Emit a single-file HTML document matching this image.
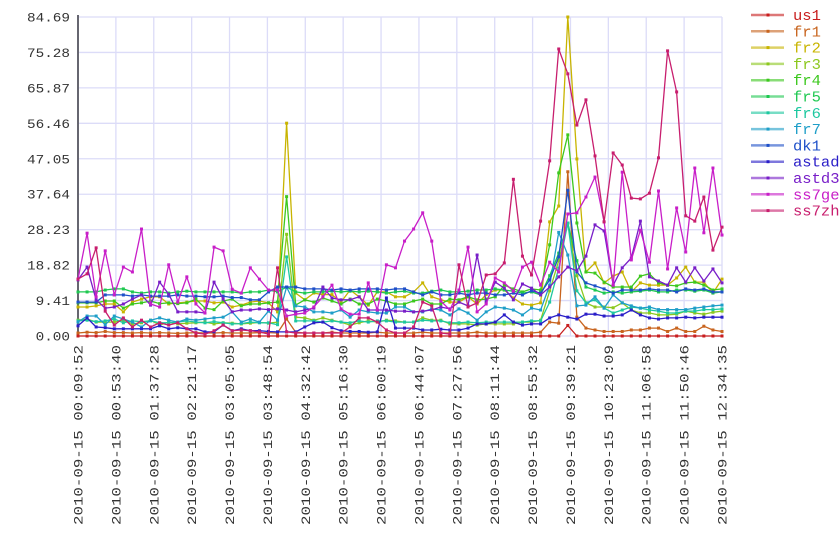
<!DOCTYPE html>
<html><head><meta charset="utf-8">
<style>
html,body{margin:0;padding:0;background:#fff;}
svg{display:block;font-family:"Liberation Mono","DejaVu Sans Mono",monospace;}
</style></head>
<body>
<svg id="chart" width="840" height="560" viewBox="0 0 840 560" xmlns="http://www.w3.org/2000/svg">
<g id="grid"></g>
<g id="yticks"></g>
<g id="xticks"></g>
<g id="series"></g>
<g id="legend"></g>
</svg>
<script>
const seriesNames = ["us1","fr1","fr2","fr3","fr4","fr5","fr6","fr7","dk1","astad","astd3","ss7ge","ss7zh"];
const seriesColors = ["#c81e1e","#c8641e","#c8b400","#8cc81e","#3cc81e","#1ec850","#1ec8a0","#1e9ec8","#1e50c8","#2a1ec8","#781ec8","#c81ec8","#c81e6e"];
const yTickLabels = ["0.00","9.41","18.82","28.23","37.64","47.05","56.46","65.87","75.28","84.69"];
const yMax = 84.69;
const xTickLabels = ["2010-09-15 00:09:52","2010-09-15 00:53:40","2010-09-15 01:37:28","2010-09-15 02:21:17","2010-09-15 03:05:05","2010-09-15 03:48:54","2010-09-15 04:32:42","2010-09-15 05:16:30","2010-09-15 06:00:19","2010-09-15 06:44:07","2010-09-15 07:27:56","2010-09-15 08:11:44","2010-09-15 08:55:32","2010-09-15 09:39:21","2010-09-15 10:23:09","2010-09-15 11:06:58","2010-09-15 11:50:46","2010-09-15 12:34:35"];

const us1 = [0,0,0,0,0,0,0,0,0,0,0,0,0,0,0,0,0,0,0,0,0,0,0, 0, 0,0,0,0,0,0,0,0,0,0,0,0,0,0,0,0,0,0,0,0,0,0,0, 0,0,0,0,0,0,0,2.8,0,0,0,0,0,0,0,0,0,0,0,0,0,0,0,0,0];
const fr1 = [0.8,1.0,0.9,1.2,0.9,0.9,0.8,0.9,0.8,0.9,0.8,0.7,0.8,0.9,0.8,0.8,0.9,0.8,0.8,0.8,0.9,0.9,0.8, 4.5, 1.0,0.8,0.8,0.8,1.0,0.8,0.8,0.8,0.8,1.0,0.8,0.8,0.8,0.8,1.0,0.8,0.8,0.8,0.8,0.8,1.0,0.8,0.8, 0.8,0.8,0.8,0.8,1.0,3.7,3.4,43.6,5.0,2.1,1.6,1.2,1.2,1.2,1.6,1.6,2.1,2.1,1.2,2.1,1.2,1.2,2.6,1.6,1.2];
const fr2 = [7.7,7.7,8.0,8.5,8.5,6.4,9.0,9.8,10.4,10.4,8.5,8.8,9.0,9.3,9.3,8.8,9.0,7.7,8.2,9.0,9.3,8.8,6.4, 56.5, 11.4,9.6,11.4,11.0,11.0,9.0,12.2,10.4,8.2,11.7,11.7,10.4,10.4,11.7,14.1,10.4,9.6,9.0,9.0,10.4,8.5,11.0,12.2, 12.2,10.1,8.5,8.2,8.8,30.3,34.5,84.69,47.0,17.0,19.4,14.1,15.9,17.0,11.7,14.1,13.5,13.5,13.5,15.4,18.3,14.3,14.3,11.4,15.1];
const fr3 = [4.2,4.5,3.7,3.7,3.7,4.2,3.2,3.5,4.2,2.9,3.7,3.2,3.4,3.5,3.7,3.2,3.5,3.4,3.2,3.4,3.6,3.4,3.7, 27.0, 5.0,4.8,4.2,4.8,4.2,3.7,2.9,3.5,4.0,3.7,4.2,4.0,3.7,3.7,4.8,4.2,4.2,3.2,3.2,3.2,2.9,3.2,3.2, 3.2,3.2,3.7,3.7,4.2,12.0,20.0,30.0,16.0,8.8,7.7,7.7,7.5,8.8,6.9,6.1,6.1,5.6,5.6,5.8,6.6,6.1,5.8,6.3,6.6];
const fr4 = [8.8,8.8,8.8,9.3,9.3,7.4,8.5,8.8,9.3,8.6,8.8,8.6,8.8,9.8,7.4,7.0,9.3,9.8,8.0,8.5,8.5,8.8,9.0, 37.0, 8.2,9.6,9.0,10.1,9.3,8.5,9.8,8.5,8.5,9.8,9.3,8.5,8.5,9.3,9.8,8.5,8.5,9.8,9.6,10.4,9.6,9.8,10.4, 13.5,12.5,11.7,12.5,12.2,24.2,43.3,53.4,30.0,17.0,16.7,14.3,13.0,13.0,13.0,15.9,16.5,14.1,13.5,13.3,14.1,14.3,13.5,12.2,12.5];
const fr5 = [11.7,11.7,11.7,12.2,12.5,12.5,11.7,11.4,11.7,11.7,11.4,11.7,11.9,11.7,11.7,11.7,11.7,11.7,11.4,11.7,11.7,12.2,11.7, 13.0, 11.7,11.4,11.7,11.7,11.9,11.7,11.9,11.7,11.9,11.7,11.4,11.7,11.9,11.4,11.4,11.9,12.2,11.7,11.7,11.9,12.2,12.2,12.5, 12.2,11.9,11.4,11.7,10.9,16.0,22.0,30.0,20.0,13.0,12.2,11.4,11.7,11.4,11.7,11.9,12.2,11.7,11.7,12.2,12.2,11.9,12.2,11.4,11.7];
const fr6 = [4.0,4.2,3.8,4.0,4.5,3.5,4.0,3.8,4.0,3.5,3.5,3.7,4.0,3.7,3.5,3.8,3.5,3.2,3.3,3.7,3.5,3.5,3.0, 21.0, 4.0,4.0,4.0,3.7,4.0,3.7,3.5,4.0,3.7,4.0,4.0,3.7,3.7,3.7,4.2,4.0,4.0,3.5,3.5,3.7,3.5,3.7,3.7, 3.7,3.7,3.7,4.0,4.0,9.0,18.0,30.0,12.0,8.8,9.6,7.4,6.1,6.9,7.7,7.4,6.9,6.6,6.1,6.1,6.6,6.6,7.0,7.0,7.2];
const fr7 = [3.7,5.3,5.3,3.0,5.3,4.5,3.7,2.4,4.2,4.8,4.2,3.7,4.5,4.2,4.5,4.8,5.0,6.4,3.7,4.5,3.7,6.6,4.2, 13.0, 8.0,7.7,6.4,6.4,6.1,6.9,5.0,6.9,6.4,6.1,6.1,7.7,7.7,6.4,6.4,7.2,6.9,5.6,7.2,6.1,4.2,6.4,7.7, 7.4,6.9,5.6,7.4,6.9,13.5,27.5,21.5,8.0,8.2,10.4,7.4,10.9,8.8,8.0,7.4,7.7,7.0,7.0,7.0,7.0,7.4,7.7,8.0,8.2];
const dk1 = [9.0,9.0,9.0,10.9,10.9,10.9,10.6,10.9,10.6,10.6,10.6,10.9,10.6,10.6,10.4,10.4,10.6,10.2,10.2,9.6,9.6,11.7,13.0, 13.0, 13.0,12.5,12.5,12.5,12.2,12.5,12.2,12.5,12.5,12.5,12.2,12.5,12.5,11.7,10.9,11.7,10.9,10.9,11.4,10.9,11.4,11.4,10.9, 10.9,11.4,10.9,12.0,11.4,14.9,21.0,38.7,17.0,14.1,13.3,12.5,11.4,12.2,12.2,12.2,12.5,12.2,12.2,11.7,12.5,12.2,12.5,11.7,11.7];
const astad = [2.7,4.8,2.4,2.2,1.9,1.9,1.9,1.9,1.9,2.7,1.9,2.2,1.9,1.9,1.1,1.1,2.9,1.4,1.9,1.4,1.4,1.2,1.1, 1.1, 1.1,2.4,3.5,3.7,2.2,1.4,1.2,1.2,1.0,1.1,10.1,2.1,2.1,2.1,1.6,1.6,1.8,1.6,1.6,2.1,3.2,3.2,3.7, 5.6,3.7,2.9,3.2,3.2,4.8,5.6,5.0,4.5,5.8,5.8,5.3,5.3,5.6,6.9,5.6,4.8,4.5,4.8,4.8,5.0,4.8,5.0,5.0,5.0];
const astd3 = [14.9,18.3,9.6,7.4,7.7,8.5,9.8,10.9,8.2,14.3,11.1,6.4,6.4,6.4,6.1,14.3,9.8,6.4,6.9,6.9,7.2,7.0,7.2, 6.9, 6.4,6.9,7.4,13.0,10.1,9.6,9.6,10.4,6.9,6.9,6.9,6.6,6.6,6.4,6.6,6.9,7.7,7.2,9.0,8.0,21.5,9.0,14.3, 12.7,9.6,13.8,12.7,10.9,13.0,15.7,18.3,17.3,21.2,29.5,27.9,13.5,18.1,20.7,30.5,15.7,14.6,13.5,18.1,14.3,18.1,14.6,17.8,14.1];
const ss7ge = [15.1,27.3,10.4,22.6,10.9,18.3,17.0,28.4,8.5,7.7,18.9,9.0,15.7,8.5,6.1,23.6,22.6,12.4,11.4,18.1,15.1,12.2,12.2, 5.3, 5.8,6.1,7.7,10.4,13.5,7.2,5.8,5.8,14.1,6.9,18.9,18.1,25.2,28.4,32.7,25.2,9.3,6.9,12.2,23.6,6.4,8.5,15.4, 14.1,11.9,18.3,19.6,13.5,19.6,17.0,32.4,32.7,36.9,42.2,30.3,13.5,43.5,20.2,28.1,19.6,38.5,17.8,34.0,22.3,44.6,27.4,44.6,26.8];
const ss7zh = [15.1,16.5,23.4,6.6,2.9,4.8,2.4,4.2,2.4,3.5,2.9,3.5,1.9,0.8,0.5,1.4,2.9,1.4,1.6,1.4,1.1,0.5,18.1, 1.1, 0.8,0.8,0.8,0.8,0.8,0.8,2.4,4.8,4.8,3.7,1.6,0.8,0.8,2.4,9.0,8.0,0.8,0.5,18.9,7.7,8.8,16.2,16.5, 19.4,41.6,21.2,16.2,30.5,46.5,76.2,69.6,56.0,62.7,47.8,30.3,48.6,45.4,36.6,36.4,37.9,47.3,75.7,64.8,31.9,30.5,36.9,22.8,28.9];

const seriesValues = [us1,fr1,fr2,fr3,fr4,fr5,fr6,fr7,dk1,astad,astd3,ss7ge,ss7zh];

const NS = "http://www.w3.org/2000/svg";
const X0 = 78, X1 = 722, Y0 = 17, Y1 = 336;
const nPts = ss7zh.length;
function xScale(i){ return X0 + (X1 - X0) * i / (nPts - 1); }
function yScale(v){ return Y1 - (Y1 - Y0) * v / yMax; }
function mk(tag, attrs, parent){
  const e = document.createElementNS(NS, tag);
  for (const k in attrs) e.setAttribute(k, attrs[k]);
  parent.appendChild(e);
  return e;
}

const grid = document.getElementById("grid");
yTickLabels.forEach((t, k) => {
  const y = yScale(parseFloat(t));
  const l = mk("line", {x1: X0, x2: X1, y1: y, y2: y, stroke: "#dcdcf8", "stroke-width": 1.3}, grid);
  
  
});
xTickLabels.forEach((t, k) => {
  const x = X0 + (X1 - X0) * k / (xTickLabels.length - 1);
  const l = mk("line", {x1: x, x2: x, y1: Y0, y2: Y1, stroke: "#dcdcf8", "stroke-width": 1.3}, grid);
  
  
});
const axis = mk("line", {x1: X0, x2: X0, y1: Y0 - 2, y2: Y1, stroke: "#666670", "stroke-width": 2}, grid);



const yt = document.getElementById("yticks");
yTickLabels.forEach((t) => {
  const y = yScale(parseFloat(t));
  const tx = mk("text", {x: 70, y: y + 4.5, "text-anchor": "end", "font-size": 13, fill: "#333", textLength: t.length * 8.6, lengthAdjust: "spacingAndGlyphs"}, yt);
  tx.textContent = t;
  
  
});

const xt = document.getElementById("xticks");
xTickLabels.forEach((t, k) => {
  const x = X0 + (X1 - X0) * k / (xTickLabels.length - 1);
  const tx = mk("text", {x: 0, y: 0, "text-anchor": "end", "font-size": 13, fill: "#333", textLength: 180, lengthAdjust: "spacingAndGlyphs", transform: "translate(" + (x + 4.5) + ",345) rotate(-90)"}, xt);
  tx.textContent = t;
  
  
});

const sg = document.getElementById("series");
seriesValues.forEach((vals, s) => {
  const g = mk("g", {}, sg);
  
  
  const pts = vals.map((v, i) => xScale(i).toFixed(1) + "," + yScale(v).toFixed(1)).join(" ");
  const pl = mk("polyline", {points: pts, fill: "none", stroke: seriesColors[s], "stroke-width": 1.3, "stroke-linejoin": "round"}, g);
  
  
  vals.forEach((v, i) => {
    const r = mk("rect", {x: xScale(i) - 1.5, y: yScale(v) - 1.5, width: 3, height: 3, fill: seriesColors[s]}, g);
    
    
  });
});

const lg = document.getElementById("legend");
seriesNames.forEach((n, s) => {
  const y = 15 + s * 16.3;
  const g = mk("g", {}, lg);
  
  
  mk("line", {x1: 751, x2: 784, y1: y, y2: y, stroke: seriesColors[s], "stroke-width": 2.5, opacity: 0.6}, g);
  mk("rect", {x: 766.5, y: y - 1.5, width: 3, height: 3, fill: seriesColors[s]}, g);
  const tx = mk("text", {x: 793, y: y + 5, "font-size": 15, fill: seriesColors[s], textLength: n.length * 9.3, lengthAdjust: "spacingAndGlyphs"}, g);
  tx.textContent = n;
  
  
});
</script>
</body></html>
